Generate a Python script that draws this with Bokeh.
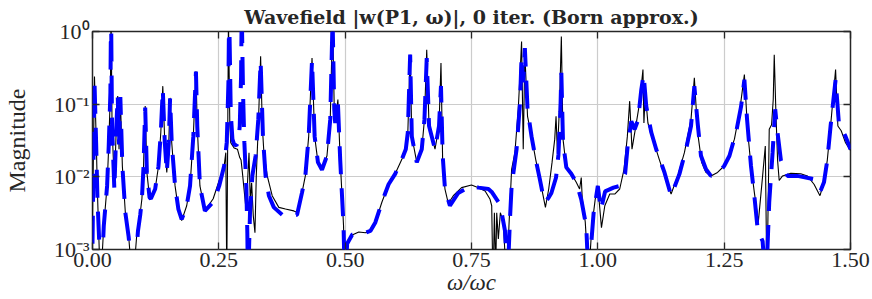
from bokeh.plotting import figure
from bokeh.models import (Range1d, FixedTicker, CustomJSTickFormatter, LinearAxis, LogAxis)
from bokeh.embed import file_html
from bokeh.resources import INLINE

# ---------------- data ----------------
x_ticks = [0.0, 0.25, 0.5, 0.75, 1.0, 1.25, 1.5]
x_tick_labels = ["0.00", "0.25", "0.50", "0.75", "1.00", "1.25", "1.50"]
y_ticks = [0.001, 0.01, 0.1, 1.0]
y_tick_labels = ["10⁻³", "10⁻²", "10⁻¹", "10⁰"]

title_text = "Wavefield |w(P1, ω)|, 0 iter. (Born approx.)"
x_label = "ω/ωc"
y_label = "Magnitude"

# exact solution (thin black)
x_exact = [0.0, 0.0039, 0.0072, 0.0098, 0.0157, 0.0223, 0.0289, 0.0321, 0.0354, 0.0367,
           0.0387, 0.0433, 0.0472, 0.0499, 0.0525, 0.0551, 0.0591, 0.0650, 0.0715, 0.0795,
           0.0879, 0.0945, 0.0978, 0.1010, 0.1043, 0.1076, 0.1129, 0.1155, 0.1240, 0.1306,
           0.1352, 0.1391, 0.1430, 0.1470, 0.1510, 0.1535, 0.1568, 0.1634, 0.1699, 0.1765,
           0.1864, 0.1930, 0.1995, 0.2047, 0.2073, 0.2126, 0.2224, 0.2388, 0.2507, 0.2605,
           0.2638, 0.2657, 0.2677, 0.2690, 0.2717, 0.2736, 0.2802, 0.2868, 0.2914, 0.2940,
           0.2966, 0.3031, 0.3064, 0.3097, 0.3123, 0.3149, 0.3182, 0.3215, 0.3241, 0.3281,
           0.3327, 0.3360, 0.3392, 0.3458, 0.3556, 0.3687, 0.3819, 0.3983, 0.4068, 0.4147,
           0.4212, 0.4278, 0.4344, 0.4396, 0.4462, 0.4541, 0.4640, 0.4705, 0.4751, 0.4784,
           0.4803, 0.4856, 0.4902, 0.4968, 0.4990, 0.5039, 0.5138, 0.5270, 0.5400, 0.5499,
           0.5597, 0.5728, 0.5860, 0.5990, 0.6122, 0.6200, 0.6240, 0.6286, 0.6319, 0.6417,
           0.6516, 0.6569, 0.6614, 0.6660, 0.6778, 0.6857, 0.6896, 0.6929, 0.6975, 0.7041,
           0.7140, 0.7304, 0.7500, 0.7638, 0.7769, 0.7867, 0.7900, 0.7926, 0.7953, 0.7979,
           0.7999, 0.8031, 0.8071, 0.8130, 0.8196, 0.8241, 0.8294, 0.8359, 0.8425, 0.8458,
           0.8491, 0.8524, 0.8556, 0.8609, 0.8688, 0.8773, 0.8852, 0.8917, 0.8963, 0.9028,
           0.9094, 0.9147, 0.9173, 0.9200, 0.9239, 0.9278, 0.9311, 0.9376, 0.9475, 0.9573,
           0.9639, 0.9672, 0.9692, 0.9751, 0.9817, 0.9882, 0.9948, 1.0000, 1.0072, 1.0138,
           1.0236, 1.0335, 1.0433, 1.0518, 1.0584, 1.0630, 1.0676, 1.0741, 1.0827, 1.0893,
           1.0912, 1.0938, 1.0991, 1.1089, 1.1220, 1.1352, 1.1450, 1.1581, 1.1713, 1.1844,
           1.1910, 1.1975, 1.2054, 1.2140, 1.2238, 1.2369, 1.2500, 1.2572, 1.2703, 1.2802,
           1.2900, 1.2966, 1.3031, 1.3097, 1.3176, 1.3261, 1.3314, 1.3346, 1.3392, 1.3438,
           1.3471, 1.3491, 1.3524, 1.3557, 1.3589, 1.3655, 1.3819, 1.4016, 1.4147, 1.4278,
           1.4396, 1.4475, 1.4541, 1.4606, 1.4705, 1.4750, 1.4816, 1.4902, 1.5000]
y_exact = [0.0025, 0.24, 0.036, 0.006, 0.0003, 0.00214, 0.0075, 0.0266, 0.143, 2.0,
           0.05, 0.0075, 0.05, 0.129, 0.024, 0.122, 0.014, 0.0032, 0.00155, 0.0003,
           0.0017, 0.0032, 0.005, 0.014, 0.094, 0.0115, 0.0052, 0.005, 0.0068, 0.014,
           0.041, 0.177, 0.03, 0.0115, 0.03, 0.122, 0.0295, 0.0075, 0.0036, 0.0025,
           0.004, 0.0075, 0.036, 0.283, 0.05, 0.0075, 0.0034, 0.005, 0.0089, 0.0141,
           0.0215, 0.0004, 0.05, 1.5, 0.055, 0.0295, 0.025, 0.024, 0.0184, 0.017,
           0.0115, 0.004, 0.0075, 0.0215, 0.0045, 0.0083, 0.0029, 0.0017, 0.0103, 0.05,
           0.455, 0.05, 0.0215, 0.0103, 0.0055, 0.0038, 0.0036, 0.0034, 0.0032, 0.0061,
           0.0103, 0.036, 0.43, 0.036, 0.0158, 0.0127, 0.0195, 0.0617, 1.5, 0.085,
           0.055, 0.116, 0.017, 0.0021, 0.0003, 0.00126, 0.00158, 0.00174, 0.0017, 0.0018,
           0.00236, 0.0045, 0.0079, 0.011, 0.0174, 0.024, 0.041, 0.48, 0.036, 0.0158,
           0.024, 0.0617, 0.56, 0.05, 0.024, 0.05, 0.368, 0.017, 0.0068, 0.0043,
           0.0055, 0.0071, 0.0077, 0.0071, 0.0064, 0.0049, 0.004, 0.0003, 0.0032, 0.0005,
           0.0032, 0.0014, 0.0032, 0.0024, 0.0003, 0.0021, 0.0127, 0.0215, 0.085, 0.24,
           0.73, 0.024, 0.5, 0.068, 0.036, 0.017, 0.0093, 0.0055, 0.0038, 0.0068,
           0.0158, 0.033, 0.068, 0.0215, 0.085, 0.85, 0.033, 0.0135, 0.011, 0.0084,
           0.0068, 0.0098, 0.0049, 0.0024, 0.0004, 0.0021, 0.0049, 0.0075, 0.002, 0.004,
           0.0058, 0.0058, 0.0068, 0.0127, 0.036, 0.11, 0.024, 0.045, 0.105, 0.3,
           0.055, 0.143, 0.055, 0.033, 0.017, 0.0089, 0.0058, 0.0103, 0.0215, 0.0617,
           0.23, 0.041, 0.0158, 0.0115, 0.0103, 0.0115, 0.0141, 0.0174, 0.033, 0.076,
           0.255, 0.041, 0.0141, 0.0061, 0.0024, 0.0103, 0.0266, 0.0003, 0.045, 0.052,
           0.116, 0.48, 0.076, 0.017, 0.0089, 0.0103, 0.0112, 0.011, 0.0103, 0.0079,
           0.0055, 0.0084, 0.017, 0.05, 0.3, 0.05, 0.043, 0.0295, 0.023]

# Born approximation (thick dashed blue)
x_born = [0.0, 0.0039, 0.0072, 0.0098, 0.0170, 0.0223, 0.0289, 0.0321, 0.0354, 0.0367,
          0.0387, 0.0433, 0.0472, 0.0499, 0.0525, 0.0551, 0.0591, 0.0650, 0.0715, 0.0814,
          0.0900, 0.0945, 0.0978, 0.1010, 0.1043, 0.1076, 0.1129, 0.1155, 0.1240, 0.1306,
          0.1352, 0.1391, 0.1430, 0.1470, 0.1510, 0.1535, 0.1568, 0.1634, 0.1699, 0.1765,
          0.1864, 0.1930, 0.1995, 0.2047, 0.2073, 0.2126, 0.2224, 0.2388, 0.2441, 0.2507,
          0.2605, 0.2657, 0.2690, 0.2704, 0.2736, 0.2769, 0.2802, 0.2848, 0.2887, 0.2914,
          0.2940, 0.2953, 0.2979, 0.3005, 0.3044, 0.3064, 0.3077, 0.3117, 0.3163, 0.3228,
          0.3281, 0.3327, 0.3373, 0.3425, 0.3491, 0.3589, 0.3753, 0.3884, 0.4048, 0.4147,
          0.4212, 0.4278, 0.4344, 0.4396, 0.4462, 0.4541, 0.4640, 0.4705, 0.4751, 0.4784,
          0.4803, 0.4856, 0.4902, 0.4968, 0.4995, 0.5039, 0.5138, 0.5270, 0.5400, 0.5499,
          0.5597, 0.5728, 0.5860, 0.5990, 0.6122, 0.6200, 0.6240, 0.6286, 0.6319, 0.6417,
          0.6516, 0.6569, 0.6614, 0.6660, 0.6778, 0.6857, 0.6896, 0.6929, 0.6975, 0.7073,
          0.7238, 0.7500, 0.7638, 0.7835, 0.7900, 0.8031, 0.8097, 0.8163, 0.8215, 0.8261,
          0.8294, 0.8392, 0.8458, 0.8491, 0.8524, 0.8556, 0.8609, 0.8688, 0.8773, 0.8852,
          0.8917, 0.8963, 0.9028, 0.9081, 0.9173, 0.9220, 0.9259, 0.9278, 0.9311, 0.9376,
          0.9475, 0.9573, 0.9672, 0.9770, 0.9817, 0.9915, 1.0000, 1.0060, 1.0144, 1.0310,
          1.0433, 1.0540, 1.0597, 1.0663, 1.0728, 1.0794, 1.0860, 1.0906, 1.0958, 1.1057,
          1.1155, 1.1319, 1.1450, 1.1614, 1.1746, 1.1844, 1.1910, 1.1975, 1.2041, 1.2140,
          1.2238, 1.2369, 1.2500, 1.2605, 1.2736, 1.2835, 1.2900, 1.2953, 1.3031, 1.3097,
          1.3163, 1.3261, 1.3327, 1.3392, 1.3458, 1.3510, 1.3557, 1.3622, 1.3688, 1.3753,
          1.3950, 1.4213, 1.4278, 1.4344, 1.4410, 1.4475, 1.4541, 1.4606, 1.4705, 1.4770,
          1.4902, 1.5000]
y_born = [0.0012, 0.21, 0.029, 0.005, 0.0003, 0.0021, 0.0075, 0.0266, 0.143, 2.0,
          0.05, 0.0066, 0.05, 0.13, 0.028, 0.125, 0.014, 0.0032, 0.0015, 0.0003,
          0.0018, 0.003, 0.005, 0.014, 0.09, 0.0115, 0.0052, 0.005, 0.0068, 0.014,
          0.041, 0.16, 0.03, 0.0115, 0.03, 0.12, 0.0295, 0.0075, 0.0036, 0.0026,
          0.004, 0.0075, 0.036, 0.28, 0.05, 0.0075, 0.0034, 0.0045, 0.0055, 0.0075,
          0.0141, 0.03, 0.2, 2.0, 0.076, 0.033, 0.028, 0.027, 0.031, 0.05,
          0.24, 2.0, 0.143, 0.03, 0.0075, 0.0017, 0.0003, 0.0032, 0.0103, 0.0195,
          0.0617, 0.39, 0.036, 0.0103, 0.0055, 0.0038, 0.003, 0.0029, 0.003, 0.0061,
          0.0103, 0.036, 0.40, 0.036, 0.0158, 0.0125, 0.0195, 0.0617, 1.5, 0.085,
          0.055, 0.105, 0.017, 0.0021, 0.0003, 0.0012, 0.0016, 0.0017, 0.0017, 0.0018,
          0.00236, 0.0045, 0.0079, 0.011, 0.0174, 0.024, 0.041, 0.48, 0.036, 0.0158,
          0.024, 0.0617, 0.43, 0.05, 0.024, 0.05, 0.178, 0.02, 0.0068, 0.004,
          0.006, 0.0075, 0.0071, 0.0068, 0.0062, 0.0045, 0.0032, 0.0018, 0.0004, 0.0026,
          0.0075, 0.024, 0.1, 0.45, 0.2, 0.59, 0.085, 0.036, 0.017, 0.0093,
          0.0055, 0.0045, 0.0052, 0.006, 0.0098, 0.02, 0.08, 0.27, 0.03, 0.0135,
          0.011, 0.0084, 0.0049, 0.0021, 0.0004, 0.0031, 0.0075, 0.0035, 0.0063, 0.0071,
          0.0075, 0.011, 0.03, 0.058, 0.045, 0.06, 0.158, 0.255, 0.094, 0.041,
          0.024, 0.0115, 0.0055, 0.0109, 0.024, 0.05, 0.177, 0.055, 0.0195, 0.0127,
          0.0103, 0.011, 0.0141, 0.0195, 0.041, 0.093, 0.217, 0.0617, 0.0141, 0.0055,
          0.0019, 0.0013, 0.0003, 0.0045, 0.0215, 0.085, 0.04, 0.017, 0.0127, 0.0103,
          0.0103, 0.0095, 0.0093, 0.0075, 0.0065, 0.0084, 0.017, 0.05, 0.217, 0.055,
          0.036, 0.024]

# ---------------- styling ----------------
AXFONT = "Liberation Serif"
TFONT = "DejaVu Serif"
DARK = "#262626"
GRID = "#cccccc"

p = figure(width=872, height=299, x_range=Range1d(0, 1.5), y_range=Range1d(1e-3, 1.0),
           y_axis_type="log", output_backend="svg", toolbar_location=None,
           min_border_left=88, min_border_right=22, min_border_top=30, min_border_bottom=50,
           background_fill_color="white", border_fill_color="white",
           title=title_text)

p.title.align = "center"
p.title.text_font = TFONT
p.title.text_font_size = "19px"
p.title.text_font_style = "bold"
p.title.text_color = DARK
p.title.standoff = 7
p.title.offset = 0

p.outline_line_color = DARK
p.outline_line_width = 1.5
p.outline_line_alpha = 1.0

fmt_code = """
const i = vals.findIndex(v => Math.abs(v - tick) <= 1e-9 + 1e-6 * Math.abs(v));
return i >= 0 ? labels[i] : "";
"""

def style_axis(ax, show_labels=True):
    ax.axis_line_color = None
    ax.major_tick_in = 7
    ax.major_tick_out = 0
    ax.minor_tick_in = 0
    ax.minor_tick_out = 0
    ax.minor_tick_line_color = None
    ax.major_tick_line_color = DARK
    ax.major_tick_line_width = 1.3
    if show_labels:
        ax.major_label_text_font = AXFONT
        ax.major_label_text_font_size = "22px"
        ax.major_label_text_color = DARK
        ax.axis_label_text_font = AXFONT
        ax.axis_label_text_font_size = "23px"
        ax.axis_label_text_color = DARK
    else:
        ax.major_label_text_font_size = "0px"
        ax.major_label_text_color = None
        ax.major_label_standoff = 0

xa = p.xaxis[0]
xa.ticker = FixedTicker(ticks=x_ticks)
xa.formatter = CustomJSTickFormatter(args=dict(vals=x_ticks, labels=x_tick_labels), code=fmt_code)
style_axis(xa)
xa.major_label_standoff = 3
xa.axis_label = x_label
xa.axis_label_text_font_style = "italic"
xa.axis_label_standoff = 0

ya = p.yaxis[0]
ya.ticker = FixedTicker(ticks=y_ticks)
ya.formatter = CustomJSTickFormatter(args=dict(vals=y_ticks, labels=y_tick_labels), code=fmt_code)
style_axis(ya)
ya.major_label_standoff = 3
ya.axis_label = y_label
ya.axis_label_text_font_style = "normal"
ya.axis_label_text_font_size = "24px"
ya.axis_label_standoff = 21

top = LinearAxis(ticker=FixedTicker(ticks=x_ticks),
                 formatter=CustomJSTickFormatter(code="return '';"))
style_axis(top, show_labels=False)
p.add_layout(top, "above")

right = LogAxis(ticker=FixedTicker(ticks=y_ticks),
                formatter=CustomJSTickFormatter(code="return '';"))
style_axis(right, show_labels=False)
p.add_layout(right, "right")

p.xgrid.ticker = FixedTicker(ticks=x_ticks)
p.ygrid.ticker = FixedTicker(ticks=y_ticks)
for g in (p.xgrid[0], p.ygrid[0]):
    g.grid_line_color = GRID
    g.grid_line_width = 1.2
    g.minor_grid_line_color = None

# curves
p.line(x_exact, y_exact, line_color="black", line_width=1.1)
p.line(x_born, y_born, line_color="#0000ff", line_width=4, line_dash="28 14")

open("out.html", "w").write(file_html(p, INLINE))
